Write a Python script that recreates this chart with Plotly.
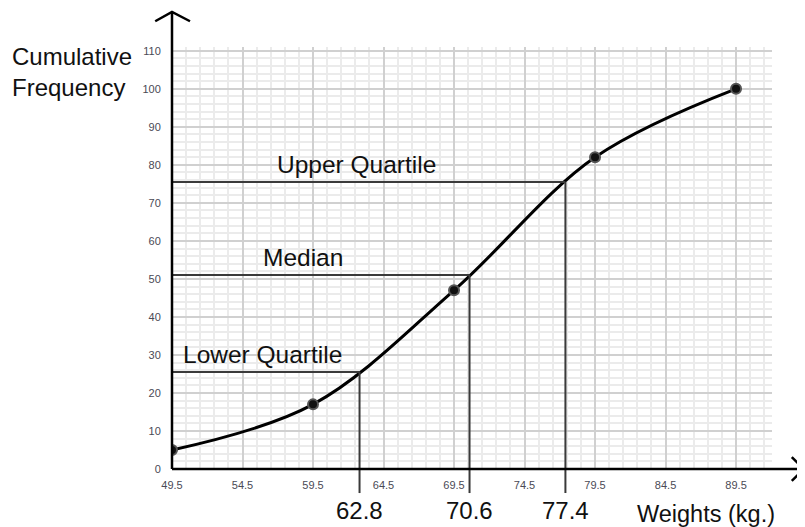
import plotly.graph_objects as go

# ogive data
weights = [49.5, 59.5, 69.5, 79.5, 89.5]
cum_freq = [5, 17, 47, 82, 100]

x_ticks = [49.5, 54.5, 59.5, 64.5, 69.5, 74.5, 79.5, 84.5, 89.5]
y_ticks = [0, 10, 20, 30, 40, 50, 60, 70, 80, 90, 100, 110]

quartile_names = ["Lower Quartile", "Median", "Upper Quartile"]
quartile_values = [62.8, 70.6, 77.4]
quartile_levels = [25.5, 51, 75.5]
quartile_label_x = [50.2, 55.9, 56.9]

FONT = "Liberation Sans"

fig = go.Figure()

fig.add_trace(go.Scatter(
    x=weights, y=cum_freq,
    mode="lines+markers",
    line=dict(color="black", width=3, shape="spline", smoothing=1),
    marker=dict(size=10, color="#111", line=dict(color="#555", width=2)),
    hoverinfo="x+y",
))

shapes = []
annotations = []
for name, q, lvl, lx in zip(quartile_names, quartile_values, quartile_levels, quartile_label_x):
    # horizontal line from the y axis to the curve
    shapes.append(dict(type="line", xref="x", yref="y", x0=weights[0], x1=q, y0=lvl, y1=lvl,
                       line=dict(color="#3a3a3a", width=2)))
    # vertical drop down past the x axis
    shapes.append(dict(type="line", xref="x", yref="paper", x0=q, x1=q, y0=lvl / 111, y1=-0.057,
                       line=dict(color="#3a3a3a", width=2)))
    annotations.append(dict(x=lx, y=lvl, xref="x", yref="y", text=name, showarrow=False,
                            xanchor="left", yanchor="bottom", borderpad=0, yshift=3,
                            font=dict(family=FONT, size=24.5, color="#111")))
    annotations.append(dict(x=q, y=-0.0995, xref="x", yref="paper", text=str(q), showarrow=False,
                            xanchor="center", yanchor="middle",
                            font=dict(family=FONT, size=24, color="#111")))

# axis lines with arrow heads
shapes += [
    dict(type="line", xref="paper", yref="paper", x0=0, x1=1.055, y0=0, y1=0,
         line=dict(color="black", width=2.5)),
    dict(type="path", xref="paper", yref="paper",
         path="M 1.033 0.0284 L 1.053 0 L 1.033 -0.0284",
         line=dict(color="black", width=2.5)),
    dict(type="line", xref="paper", yref="paper", x0=0, x1=0, y0=0, y1=1.083,
         line=dict(color="black", width=2.5)),
    dict(type="path", xref="paper", yref="paper",
         path="M -0.028 1.061 L 0 1.083 L 0.03 1.061",
         line=dict(color="black", width=2.5)),
]

annotations += [
    dict(x=-0.27, y=0.94, xref="paper", yref="paper", text="Cumulative<br>Frequency",
         showarrow=False, xanchor="left", yanchor="middle", align="left",
         font=dict(family=FONT, size=24, color="#111")),
    dict(x=0.89, y=-0.106, xref="paper", yref="paper", text="Weights (kg.)",
         showarrow=False, xanchor="center", yanchor="middle",
         font=dict(family=FONT, size=23.5, color="#111")),
]

fig.update_xaxes(
    range=[49.5, 92.05], tickvals=x_ticks, ticktext=[str(v) for v in x_ticks],
    showgrid=True, gridcolor="#d0d0d0", gridwidth=1.5,
    minor=dict(tick0=49.5, dtick=1, showgrid=True, gridcolor="#ebebeb", gridwidth=1.8),
    ticks="outside", ticklen=6, tickcolor="rgba(0,0,0,0)",
    tickfont=dict(family=FONT, size=11, color="#4a4a55"),
    zeroline=False, showline=False,
)
fig.update_yaxes(
    range=[0, 111], tickvals=y_ticks,
    showgrid=True, gridcolor="#d0d0d0", gridwidth=1.5,
    minor=dict(tick0=0, dtick=2, showgrid=True, gridcolor="#ebebeb", gridwidth=1.8),
    ticks="outside", ticklen=8, tickcolor="rgba(0,0,0,0)",
    tickfont=dict(family=FONT, size=11, color="#4a4a55"),
    zeroline=False, showline=False,
)

# page body adds an 8px offset, so the figure is 8px smaller each way
fig.update_layout(
    width=797, height=519,
    margin=dict(l=164, r=33, t=39, b=58),
    plot_bgcolor="white", paper_bgcolor="white",
    showlegend=False,
    shapes=shapes, annotations=annotations,
    font=dict(family=FONT),
)

fig.write_html("out.html")
